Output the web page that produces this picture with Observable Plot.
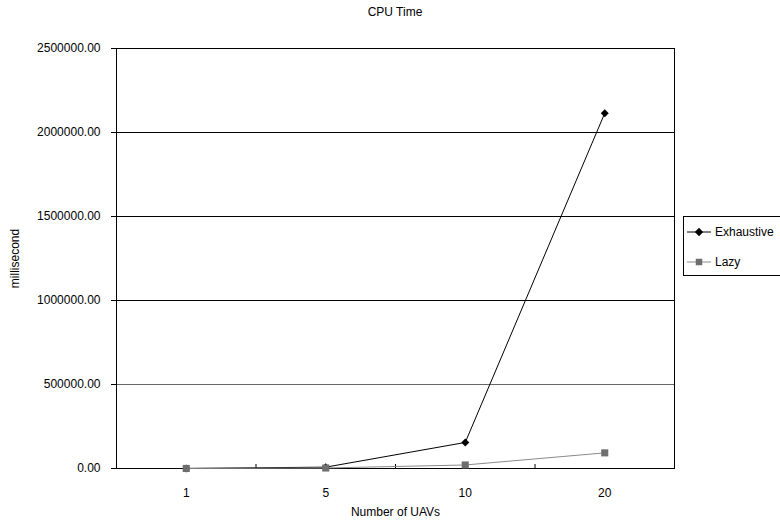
<!DOCTYPE html>
<html>
<head>
<meta charset="utf-8">
<script src="https://cdn.jsdelivr.net/npm/d3@7"></script>
<script src="https://cdn.jsdelivr.net/npm/@observablehq/plot@0.6"></script>
<style>
  body { margin: 0; background: #fff; font-family: "Liberation Sans", Arial, sans-serif; }
  #wrap { position: relative; width: 780px; height: 523px; overflow: hidden; }
  #title { position: absolute; top: 5px; left: 0; width: 790px; text-align: center; font-size: 12px; color: #000; }
  #legend { position: absolute; left: 683px; top: 216px; width: 110px; height: 60px; border: 1px solid #000; box-sizing: border-box; background: #fff; font-size: 12px; }
  .item { position: absolute; left: 2px; display: flex; align-items: center; }
  .item span { margin-left: 3px; }
</style>
</head>
<body>
<div id="wrap">
  <div id="chart"></div>
  <div id="title">CPU Time</div>
  <div id="legend"></div>
</div>
<script>
const categories = ["1", "5", "10", "20"];
const exhaustive = [500, 8000, 155000, 2115000];
const lazy = [300, 3000, 21000, 93000];
const yTicks = [0, 500000, 1000000, 1500000, 2000000, 2500000];
const seriesNames = ["Exhaustive", "Lazy"];

const rows = [];
categories.forEach((c, i) => {
  rows.push({series: "Exhaustive", pos: i + 1, value: exhaustive[i]});
  rows.push({series: "Lazy", pos: i + 1, value: lazy[i]});
});
const ex = rows.filter(d => d.series === "Exhaustive");
const lz = rows.filter(d => d.series === "Lazy");
const catPos = categories.map((c, i) => i + 1);
const boundaries = catPos.slice(0, -1).map(p => p + 0.5);

const chart = Plot.plot({
  width: 780,
  height: 523,
  marginLeft: 116,
  marginRight: 106,
  marginTop: 48,
  marginBottom: 55,
  style: {fontFamily: "Liberation Sans, Arial, sans-serif", fontSize: "12px", color: "#000", background: "#fff"},
  x: {domain: [0.5, categories.length + 0.5]},
  y: {domain: [0, 2500000]},
  marks: [
    Plot.gridY(yTicks.slice(1, 2), {stroke: "#666", strokeOpacity: 1}),
    Plot.gridY(yTicks.slice(2, -1), {stroke: "#000", strokeOpacity: 1}),
    Plot.frame({stroke: "#000"}),
    Plot.axisY(yTicks, {tickSize: 5, tickPadding: 11, tickFormat: d => d.toFixed(2), label: "millisecond", labelAnchor: "center", labelArrow: "none", labelOffset: 106, fontSize: 12}),
    Plot.axisX(catPos, {tickSize: 0, tickPadding: 20, tickFormat: p => categories[p - 1], label: "Number of UAVs", labelAnchor: "center", labelArrow: "none", labelOffset: 47, fontSize: 12}),
    Plot.axisX(boundaries, {tickSize: -4, tickFormat: () => "", label: null}),
    Plot.line(ex, {x: "pos", y: "value", stroke: "#000", strokeWidth: 1}),
    Plot.dot(ex, {x: "pos", y: "value", symbol: "diamond2", r: 3.6, fill: "#000", stroke: "none"}),
    Plot.line(lz, {x: "pos", y: "value", stroke: "#8a8a8a", strokeWidth: 1}),
    Plot.dot(lz, {x: "pos", y: "value", symbol: "square", r: 4, fill: "#6e6e6e", stroke: "none"})
  ]
});
document.getElementById("chart").appendChild(chart);

// legend
const legend = document.getElementById("legend");
const styles = {
  Exhaustive: {line: "#000", fill: "#000", sym: d3.symbolDiamond2, size: 45, top: 8},
  Lazy: {line: "#8a8a8a", fill: "#6e6e6e", sym: d3.symbolSquare, size: 42, top: 38}
};
seriesNames.forEach(name => {
  const s = styles[name];
  const item = document.createElement("div");
  item.className = "item";
  item.style.top = s.top + "px";
  const svg = d3.create("svg").attr("width", 26).attr("height", 14);
  svg.append("line").attr("x1", 1).attr("x2", 25).attr("y1", 7).attr("y2", 7).attr("stroke", s.line);
  svg.append("path").attr("d", d3.symbol(s.sym, s.size)()).attr("transform", "translate(13,7)").attr("fill", s.fill);
  item.appendChild(svg.node());
  const t = document.createElement("span");
  t.textContent = name;
  item.appendChild(t);
  legend.appendChild(item);
});
</script>
</body>
</html>
